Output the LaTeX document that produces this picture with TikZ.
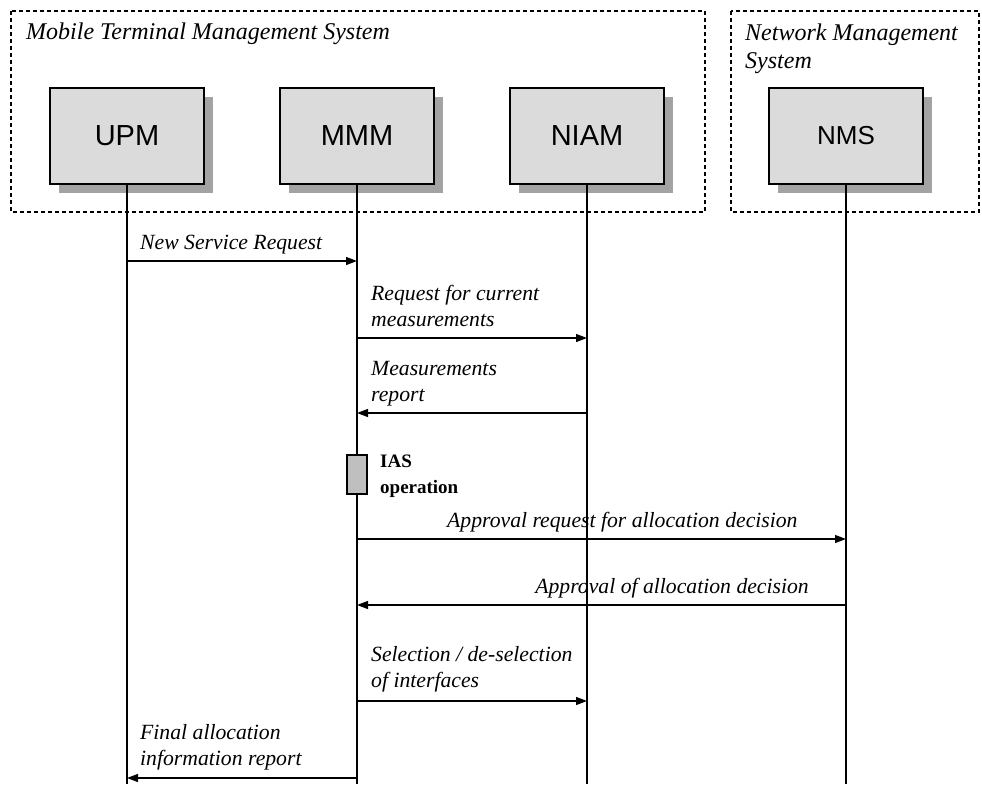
\documentclass[tikz,border=0pt]{standalone}
\usepackage{fontspec}
\setmainfont{Liberation Serif}
\newfontfamily\boxfont{Liberation Sans}
\usetikzlibrary{arrows.meta,shadows}

\tikzset{
  entity/.style={draw, fill=gray!28, line width=1.3pt, minimum width=154pt, minimum height=96pt,
    font=\boxfont\fontsize{29}{32}\selectfont,
    copy shadow={shadow xshift=9pt, shadow yshift=-9pt, fill=gray!72, draw=none}},
  sysbox/.style={line width=1.1pt, dash pattern=on 4pt off 3pt},
  systitle/.style={anchor=base west, inner sep=0pt, align=left, font=\itshape\fontsize{24}{28}\selectfont},
  life/.style={line width=1.2pt},
  msg/.style={line width=1.2pt, -{Triangle[length=11pt,width=8pt]}},
  msglabel/.style={anchor=base west, inner sep=0pt, align=left, font=\itshape\fontsize{21.7}{26}\selectfont}
}

\begin{document}
\begin{tikzpicture}[x=1pt,y=-1pt]
\useasboundingbox (0,0) rectangle (982,784);

% system frames
\draw[sysbox] (11,11) rectangle (705,212);
\draw[sysbox] (731,11) rectangle (979,212);
\node[systitle] (mtmstitle) at (26,40) {Mobile Terminal Management System};
\node[systitle] (nmstitle) at (745,68) {Network Management\\System};

% entities
\node[entity] (upm) at (127,136) {UPM};
\node[entity] (mmm) at (357,136) {MMM};
\node[entity] (niam) at (587,136) {NIAM};
\node[entity, font=\boxfont\fontsize{26}{30}\selectfont] (nms) at (846,136) {NMS};

% lifelines
\draw[life] (upm) -- (upm |- 0,784);
\draw[life] (mmm) -- (mmm |- 0,784);
\draw[life] (niam) -- (niam |- 0,784);
\draw[life] (nms) -- (nms |- 0,784);

% IAS operation (anchor base = last line)
\node[draw, fill=gray!50, line width=1.2pt, minimum width=20pt, minimum height=39pt, inner sep=0pt] (ias) at (357,474.5) {};
\node[anchor=base west, inner sep=0pt, align=left, font=\bfseries\fontsize{19}{26}\selectfont] (iaslabel) at (380,493) {IAS\\operation};

% messages
\draw[msg] (upm |- 0,261) -- (mmm |- 0,261);
\node[msglabel] (m1) at (140,249) {New Service Request};

\draw[msg] (mmm |- 0,338) -- (niam |- 0,338);
\node[msglabel] (m2) at (371,326) {Request for current\\measurements};

\draw[msg] (niam |- 0,413) -- (mmm |- 0,413);
\node[msglabel] (m3) at (371,401) {Measurements\\report};

\draw[msg] (mmm |- 0,539) -- (nms |- 0,539);
\node[msglabel] (m4) at (447,527) {Approval request for allocation decision};

\draw[msg] (nms |- 0,605) -- (mmm |- 0,605);
\node[msglabel, anchor=base east] (m5) at (809,593) {Approval of allocation decision};

\draw[msg] (mmm |- 0,701) -- (niam |- 0,701);
\node[msglabel] (m6) at (371,687) {Selection / de-selection\\of interfaces};

\draw[msg] (mmm |- 0,778) -- (upm |- 0,778);
\node[msglabel] (m7) at (140,765) {Final allocation\\information report};
\end{tikzpicture}
\end{document}
